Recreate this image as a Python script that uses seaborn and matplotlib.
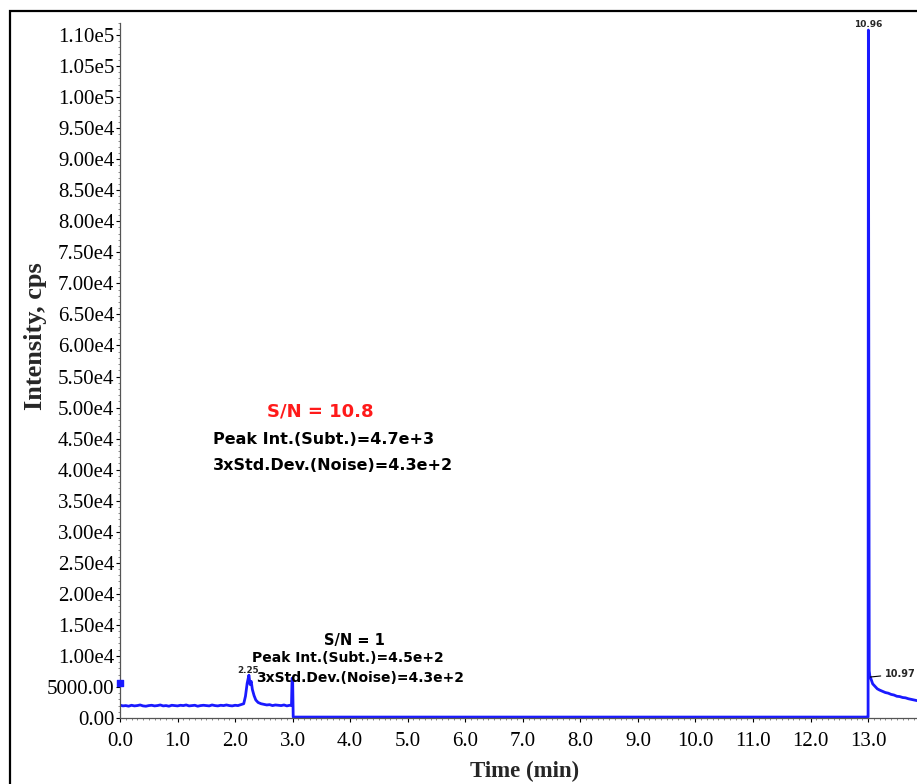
import matplotlib
matplotlib.use("Agg")
import matplotlib.pyplot as plt
from matplotlib.patches import Rectangle
from matplotlib.ticker import MultipleLocator
import seaborn as sns
import pandas as pd

# ---- chromatogram trace (time in min, intensity in cps) ----
early_time = [0.01, 0.05, 0.10, 0.15, 0.20, 0.25, 0.30, 0.35, 0.40, 0.45, 0.50,
              0.55, 0.60, 0.65, 0.70, 0.75, 0.80, 0.85, 0.90, 0.95, 1.00, 1.05,
              1.10, 1.15, 1.20, 1.25, 1.30, 1.35, 1.40, 1.45, 1.50, 1.55, 1.60,
              1.65, 1.70, 1.75, 1.80, 1.85, 1.90, 1.95, 2.00, 2.05, 2.10, 2.15,
              2.18, 2.21, 2.24, 2.26, 2.28, 2.30, 2.33, 2.36, 2.40, 2.45, 2.50,
              2.55, 2.60, 2.65, 2.70, 2.75, 2.80, 2.85, 2.90, 2.95, 2.98, 2.99]
early_intensity = [2050, 1950, 2000, 1900, 2050, 1950, 2000, 2100, 1950, 1900, 2000,
                   2050, 1950, 2000, 2100, 1950, 2000, 1900, 2050, 2000, 1950, 2050,
                   2000, 2100, 1950, 2000, 2050, 1900, 2000, 2050, 2000, 1950, 2100,
                   2000, 1950, 2050, 2000, 2100, 2000, 1950, 2050, 2000, 2150, 2300,
                   3500, 5600, 6900, 5400, 5900, 4600, 3600, 2900, 2500, 2300, 2200,
                   2100, 2150, 2000, 2100, 2050, 2000, 2100, 1950, 2050, 2000, 6400]

mid_time = [3.00, 3.01, 5.00, 8.00, 11.00, 12.99]
mid_intensity = [6400, 150, 150, 150, 150, 150]

late_time = [13.00, 13.005, 13.02, 13.03, 13.05, 13.08, 13.12, 13.16, 13.20, 13.25,
             13.30, 13.35, 13.40, 13.45, 13.50, 13.55, 13.60, 13.65, 13.70, 13.75,
             13.80, 13.85]
late_intensity = [150, 110800, 7600, 6800, 6300, 5500, 5100, 4700, 4500, 4300,
                  4100, 4000, 3800, 3700, 3500, 3450, 3300, 3250, 3100, 3000,
                  2900, 2800]

start_point = (0.0, 5600)

# ---- peak labels ----
peak_labels = [(13.00, 110800, "10.96"), (2.25, 6900, "2.25")]
tail_label = (13.04, 6600, "10.97")

# ---- signal-to-noise annotations ----
sn_main = ["S/N = 10.8", "Peak Int.(Subt.)=4.7e+3", "3xStd.Dev.(Noise)=4.3e+2"]
sn_small = ["S/N = 1", "Peak Int.(Subt.)=4.5e+2", "3xStd.Dev.(Noise)=4.3e+2"]

# ---- axis ticks ----
y_ticks = [0, 5000, 10000, 15000, 20000, 25000, 30000, 35000, 40000, 45000, 50000,
           55000, 60000, 65000, 70000, 75000, 80000, 85000, 90000, 95000, 100000,
           105000, 110000]
y_tick_labels = ["0.00", "5000.00", "1.00e4", "1.50e4", "2.00e4", "2.50e4", "3.00e4",
                 "3.50e4", "4.00e4", "4.50e4", "5.00e4", "5.50e4", "6.00e4", "6.50e4",
                 "7.00e4", "7.50e4", "8.00e4", "8.50e4", "9.00e4", "9.50e4",
                 "1.00e5", "1.05e5", "1.10e5"]
x_ticks = [0.0, 1.0, 2.0, 3.0, 4.0, 5.0, 6.0, 7.0, 8.0, 9.0, 10.0, 11.0, 12.0, 13.0]

sns.set_theme(style="white")
plt.rcParams["font.family"] = ["Liberation Serif", "DejaVu Serif"]

fig = plt.figure(figsize=(9.17, 7.84), dpi=100)
ax = fig.add_axes([120 / 917, 1 - 718 / 784, 797 / 917, (718 - 22.6) / 784])

line_blue = "#1a1aff"
trace = pd.DataFrame({
    "time": early_time + mid_time + late_time,
    "intensity": early_intensity + mid_intensity + late_intensity,
})
sns.lineplot(data=trace, x="time", y="intensity", ax=ax, color=line_blue,
             lw=2.0, estimator=None, sort=False)
ax.scatter([start_point[0]], [start_point[1]], marker="s", s=16, color=line_blue,
           clip_on=False, zorder=5)

ax.set_xlim(0, 13.85)
ax.set_ylim(0, 112000)

ax.set_xticks(x_ticks)
ax.set_xticklabels([f"{t:.1f}" for t in x_ticks])
ax.set_yticks(y_ticks)
ax.set_yticklabels(y_tick_labels)
ax.xaxis.set_minor_locator(MultipleLocator(0.1))
ax.yaxis.set_minor_locator(MultipleLocator(1000))

for side in ("top", "right"):
    ax.spines[side].set_visible(False)
for side in ("left", "bottom"):
    ax.spines[side].set_color("#555555")
    ax.spines[side].set_linewidth(0.9)

ax.tick_params(axis="both", which="major", labelsize=15, colors="black",
               direction="out", length=3, width=0.8, pad=1)
ax.tick_params(axis="x", which="major", length=3, pad=7)
ax.tick_params(axis="both", which="minor", direction="out", length=1.5,
               width=0.6, color="#777777")
ax.tick_params(axis="both", which="both", left=True, bottom=True)
for lab in ax.get_xticklabels() + ax.get_yticklabels():
    lab.set_color("black")

ax.set_xlabel("Time (min)", fontsize=16.5, fontweight="bold")
ax.set_ylabel("Intensity, cps", fontsize=19, fontweight="bold")
ax.xaxis.set_label_coords(0.508, -0.062)
ax.yaxis.set_label_coords(-0.092, 0.549)

# peak apex labels
bold_sans = ["DejaVu Sans"]
ax.text(peak_labels[0][0], peak_labels[0][1] + 200, peak_labels[0][2], fontsize=6.5,
        family=bold_sans, fontweight="bold", ha="center", va="bottom", clip_on=False)
ax.text(peak_labels[1][0] - 0.03, peak_labels[1][1] + 100, peak_labels[1][2], fontsize=6.3,
        family=bold_sans, fontweight="bold", ha="center", va="bottom")
ax.annotate(tail_label[2], xy=(tail_label[0], tail_label[1]),
            xytext=(tail_label[0] + 0.26, tail_label[1] + 500), fontsize=7,
            family=bold_sans, fontweight="bold", va="center", ha="left",
            arrowprops=dict(arrowstyle="-", lw=0.8, color="black",
                            shrinkA=1, shrinkB=0))

# S/N boxes
ax.text(3.48, 49300, sn_main[0], color="#ff1a1a", fontsize=13, fontweight="bold",
        family=bold_sans, ha="center", va="center")
ax.text(1.62, 44900, sn_main[1], color="black", fontsize=11.5, fontweight="bold",
        family=bold_sans, ha="left", va="center")
ax.text(1.62, 40600, sn_main[2], color="black", fontsize=11.5, fontweight="bold",
        family=bold_sans, ha="left", va="center")

ax.text(4.08, 12500, sn_small[0], color="black", fontsize=10.5, fontweight="bold",
        family=bold_sans, ha="center", va="center")
ax.text(2.29, 9600, sn_small[1], color="black", fontsize=10, fontweight="bold",
        family=bold_sans, ha="left", va="center")
ax.text(2.36, 6440, sn_small[2], color="black", fontsize=10, fontweight="bold",
        family=bold_sans, ha="left", va="center")

# outer frame around the figure
fig.patches.append(Rectangle((10 / 917, -0.02), 1.0, 1 - 11 / 784 + 0.02,
                             transform=fig.transFigure, fill=False,
                             edgecolor="black", lw=1.6))

fig.savefig("out.png", dpi=100)
